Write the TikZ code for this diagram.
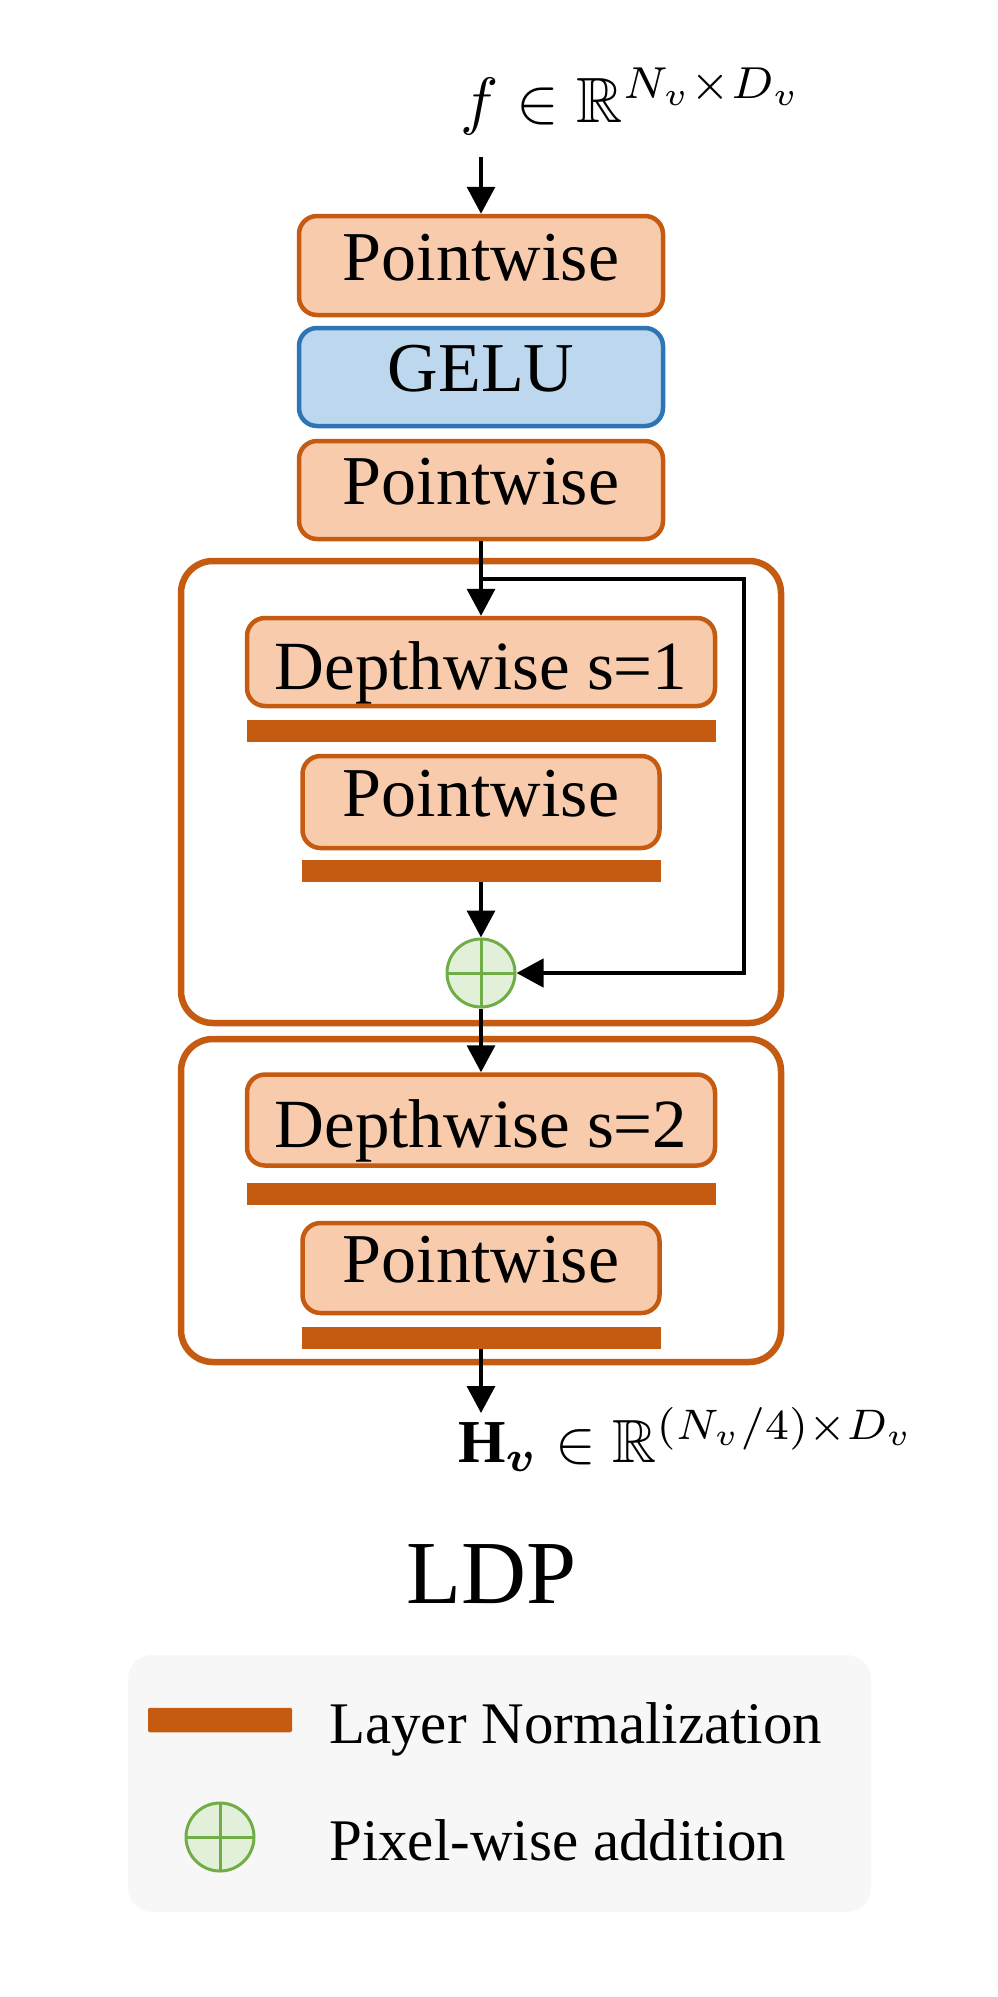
\documentclass[tikz,border=0pt]{standalone}
\usepackage{fontspec}
\setmainfont{Liberation Serif}
\usepackage{amsmath,amssymb,bm,graphicx}
\usetikzlibrary{arrows.meta}

\definecolor{ldporange}{HTML}{C55A11}
\definecolor{ldppeach}{HTML}{F8CBAD}
\definecolor{ldpblue}{HTML}{2E75B6}
\definecolor{ldpsky}{HTML}{BDD7EE}
\definecolor{ldpgreen}{HTML}{70AD47}
\definecolor{ldpmint}{HTML}{E2F0D9}
\definecolor{ldpgray}{HTML}{F7F7F7}

\begin{document}
\begin{tikzpicture}[x=1pt,y=-1pt,
    layer/.style={draw=ldporange, fill=ldppeach, line width=4.5pt, rounded corners=18pt, inner sep=0pt,
      font=\fontsize{70}{84}\selectfont, text height=49pt, text depth=20pt},
    act/.style={layer, draw=ldpblue, fill=ldpsky},
    deep/.style={layer, font=\fontsize{69}{84}\selectfont, text height=62pt, text depth=7pt},
    norm/.style={fill=ldporange, inner sep=0pt, minimum height=22pt},
    block/.style={draw=ldporange, line width=6.5pt, rounded corners=32pt, inner sep=0pt},
    add/.style={circle, draw=ldpgreen, fill=ldpmint, line width=3pt, minimum size=68pt, inner sep=0pt,
      path picture={\draw[ldpgreen, line width=3pt] (path picture bounding box.north) -- (path picture bounding box.south)
        (path picture bounding box.west) -- (path picture bounding box.east);}},
    arr/.style={line width=3.4pt, -{Triangle[length=27pt,width=28pt]}},
    skip/.style={arr, line width=4.4pt},
  ]
  \useasboundingbox (0,0) rectangle (998,1997);

  % the two residual blocks
  \node[block, minimum width=600pt, minimum height=462pt] (blk1) at (481,792) {};
  \node[block, minimum width=600pt, minimum height=323pt] (blk2) at (481,1200.5) {};

  \node[anchor=base west, inner sep=0pt] (fin) at (460,122) {\scalebox{6.4}{$f \in \mathbb{R}^{N_v \times D_v}$}};
  \coordinate (in) at (481,157);

  \node[layer, minimum width=364pt, minimum height=99pt] (pw1) at (481,265.5) {Pointwise};
  \node[act, minimum width=364pt, minimum height=98pt] (gelu) at (481,377) {GELU};
  \node[layer, minimum width=364pt, minimum height=98pt] (pw2) at (481,490) {Pointwise};

  \node[deep, minimum width=468pt, minimum height=88pt] (dw1) at (481,662) {Depthwise s=1};
  \node[norm, minimum width=469pt] (ln1) at (481,731) {};
  \node[layer, minimum width=357pt, minimum height=92pt] (pw3) at (481,802) {Pointwise};
  \node[norm, minimum width=359pt] (ln2) at (481,871) {};
  \node[add] (sum) at (481,973) {};
  \coordinate (split) at (481,579);

  \node[deep, minimum width=468pt, minimum height=91pt] (dw2) at (481,1120) {Depthwise s=2};
  \node[norm, minimum width=469pt] (ln3) at (481,1193.5) {};
  \node[layer, minimum width=357pt, minimum height=90pt] (pw4) at (481,1268) {Pointwise};
  \node[norm, minimum width=359pt] (ln4) at (481,1338) {};
  \coordinate (out) at (481,1413);

  \node[anchor=base west, inner sep=0pt] (hout) at (458,1462) {\scalebox{6.1}{$\mathbf{H}_{\bm{v}} \in \mathbb{R}^{(N_v/4) \times D_v}$}};
  \node[anchor=base, inner sep=0pt, font=\fontsize{90}{100}\selectfont] (title) at (492,1603) {LDP};

  \draw[arr] (in) -- (pw1);
  \draw[arr] (pw2) -- (dw1);
  \draw[arr] (ln2) -- (sum);
  \draw[skip] (split) -- ++(263,0) |- (sum);
  \draw[arr] (sum) -- (dw2);
  \draw[arr] (ln4) -- (out);

  % legend
  \node[fill=ldpgray, rounded corners=24pt, minimum width=743pt, minimum height=257pt] (legend) at (499.5,1783.5) {};
  \node[norm, minimum width=144pt, minimum height=24.5pt, rounded corners=2pt] (keynorm) at (220,1720) {};
  \node[add] (keyadd) at (220,1837) {};
  \node[anchor=base west, inner sep=0pt, font=\fontsize{59}{70}\selectfont] (keynormtext) at (329,1743) {Layer Normalization};
  \node[anchor=base west, inner sep=0pt, font=\fontsize{59}{70}\selectfont] (keyaddtext) at (329,1860) {Pixel-wise addition};
\end{tikzpicture}
\end{document}
